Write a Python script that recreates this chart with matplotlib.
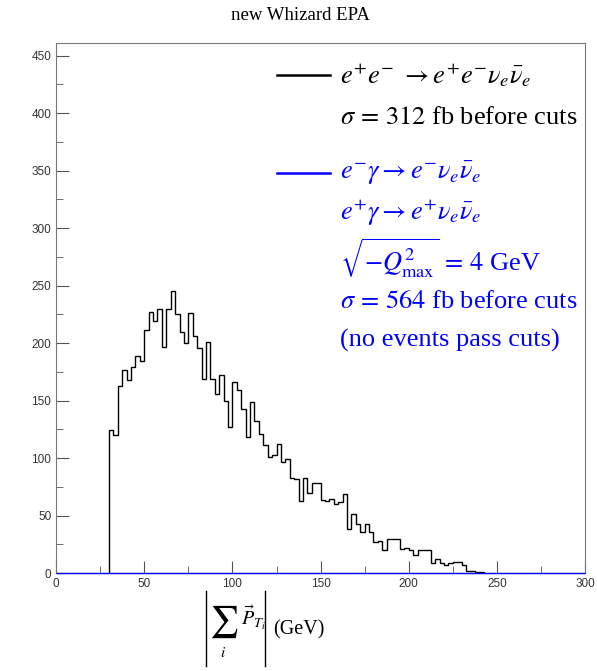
import numpy as np
import matplotlib
matplotlib.use("Agg")
import matplotlib.pyplot as plt
from matplotlib.ticker import MultipleLocator

plt.rcParams['mathtext.fontset'] = 'stix'

# black histogram: e+e- -> e+e- nu nubar, 2.5 GeV bins starting at 30 GeV
bin_lo = 30.0
bin_w = 2.5
ee_counts = [124.5, 120, 163, 177, 168, 179.5, 189, 184, 211.5, 227, 219, 230,
             197, 230, 245, 225, 209.5, 200, 226, 206, 196, 168.5, 201, 169,
             156, 172, 150, 127, 166.5, 159, 143, 118, 148.5, 132.5, 120.7, 111,
             101, 102.7, 112, 96.6, 99.5, 83, 81.5, 63, 83, 70, 78, 78,
             63.5, 62.8, 64, 60, 62, 69, 38, 51, 43, 36, 43, 36,
             27, 28, 20, 30, 29.6, 29.6, 20.6, 22, 20, 15.7, 20, 20,
             20, 9, 12, 9, 7, 9, 10, 10, 7, 2, 2, 1, 1]
# blue histogram: e gamma processes, nothing passes the cuts
egam_counts = [0] * 120
egam_lo = 0.0

title = "new Whizard EPA"
leg_black = [r"$e^{+}e^{-}\ \rightarrow e^{+}e^{-}\nu_{e}\bar{\nu}_{e}$",
             r"$\sigma\,=\,312$ fb before cuts"]
leg_blue = [r"$e^{-}\gamma\rightarrow e^{-}\nu_{e}\bar{\nu}_{e}$",
            r"$e^{+}\gamma\rightarrow e^{+}\nu_{e}\bar{\nu}_{e}$",
            r"$\sqrt{-Q^{2}_{\mathrm{max}}}\,=\,4$ GeV",
            r"$\sigma\,=\,564$ fb before cuts",
            "(no events pass cuts)"]

fig = plt.figure(figsize=(5.97, 6.71), dpi=100)
ax = fig.add_axes([0.094, 0.146, 0.886, 0.79])

ee_edges = bin_lo + bin_w * np.arange(len(ee_counts) + 1)
ax.stairs(ee_counts, ee_edges, color='black', lw=1.0)
eg_edges = egam_lo + bin_w * np.arange(len(egam_counts) + 1)
ax.stairs(egam_counts, eg_edges, color='#0000ff', lw=1.0, zorder=5, clip_on=False)

ax.set_xlim(0, 300)
ax.set_ylim(0, 461)
ax.xaxis.set_major_locator(MultipleLocator(50))
ax.xaxis.set_minor_locator(MultipleLocator(25))
ax.yaxis.set_major_locator(MultipleLocator(50))
ax.yaxis.set_minor_locator(MultipleLocator(25))
ax.tick_params(which='both', direction='in', colors='#555555', labelcolor='#333333',
               labelsize=8.5)
ax.tick_params(which='major', length=9)
ax.tick_params(which='minor', length=5)
for lab in ax.get_xticklabels() + ax.get_yticklabels():
    lab.set_family('Liberation Sans')
for sp in ax.spines.values():
    sp.set_color('#777777')

fig.text(0.503, 0.977, title, ha='center', va='center', fontsize=13.5,
         family='Liberation Serif')

# legend lines and texts
fig.add_artist(plt.Line2D([0.464, 0.553], [0.888, 0.888], color='black', lw=1.8))
fig.add_artist(plt.Line2D([0.464, 0.553], [0.742, 0.742], color='#0000ff', lw=1.8))
tx = 0.57
for t, y in zip(leg_black, [0.888, 0.824]):
    fig.text(tx, y, t, ha='left', va='center', fontsize=19,
             family='Liberation Serif', color='black')
for t, y in zip(leg_blue, [0.742, 0.683, 0.615, 0.55, 0.493]):
    fig.text(tx, y, t, ha='left', va='center', fontsize=19,
             family='Liberation Serif', color='#0000ff')

# x label |sum_i P_Ti| (GeV), built in pieces to get a display-size sum
fig.add_artist(plt.Line2D([0.345, 0.345], [0.0075, 0.1192], color='black', lw=1.0))
fig.add_artist(plt.Line2D([0.444, 0.444], [0.0075, 0.1192], color='black', lw=1.0))
fig.text(0.374, 0.073, r"$\sum$", ha='center', va='center', fontsize=23)
fig.text(0.374, 0.028, r"$i$", ha='center', va='center', fontsize=11)
fig.text(0.404, 0.079, r"$\vec{P}_{T_{i}}$", ha='left', va='center', fontsize=14.5)
fig.text(0.458, 0.061, "(GeV)", ha='left', va='center', fontsize=14.5,
         family='Liberation Serif')

fig.savefig("out.png", dpi=100)
